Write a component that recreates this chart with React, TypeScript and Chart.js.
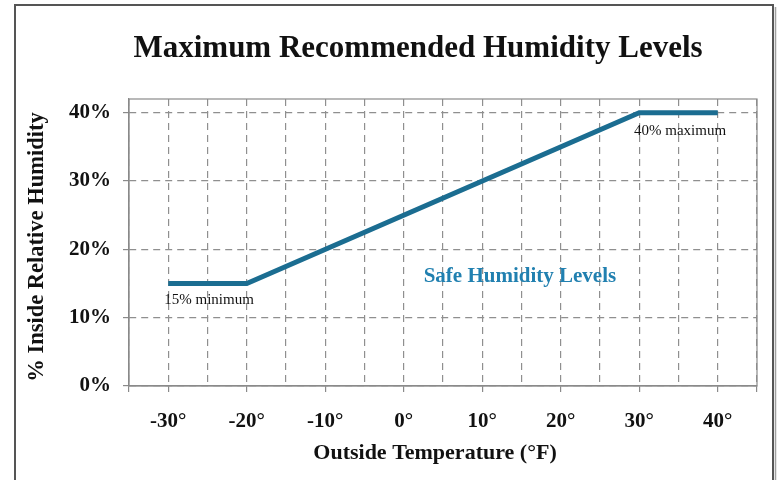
import React, { useEffect, useRef } from "react";
import { Chart, registerables } from "chart.js";

Chart.register(...registerables);

const TEMPS = [-30, -20, 30, 40];
const HUMIDITY = [15, 15, 40, 40];
const X_GRID = [-35, -30, -25, -20, -15, -10, -5, 0, 5, 10, 15, 20, 25, 30, 35, 40, 45];
const X_LABELS = [-30, -20, -10, 0, 10, 20, 30, 40];
const Y_GRID = [0, 10, 20, 30, 40];
const TITLE = "Maximum Recommended Humidity Levels";
const X_TITLE = "Outside Temperature (°F)";
const Y_TITLE = "% Inside Relative Humidity";
const NOTES = [
  { text: "Safe Humidity Levels", x: 14.8, y: 16, kind: "safe" },
  { text: "15% minimum", x: -24.8, y: 12.6, kind: "small" },
  { text: "40% maximum", x: 35.2, y: 37.3, kind: "small" },
];

const SERIF = "'Liberation Serif', 'DejaVu Serif', serif";
const LINE_COLOR = "#1b6d91";
const SAFE_COLOR = "#2180b0";
const GRID_COLOR = "#8f8f8f";

const decorPlugin = {
  id: "decor",
  beforeDraw(chart: any) {
    const { ctx, width, height } = chart;
    ctx.save();
    ctx.fillStyle = "#ffffff";
    ctx.fillRect(0, 0, width, height);
    ctx.strokeStyle = "#555";
    ctx.lineWidth = 2;
    ctx.beginPath();
    ctx.moveTo(15, height + 5);
    ctx.lineTo(15, 5);
    ctx.lineTo(773, 5);
    ctx.lineTo(773, height + 5);
    ctx.stroke();
    ctx.strokeStyle = "#a0a0a0";
    ctx.lineWidth = 1.5;
    ctx.beginPath();
    ctx.moveTo(775.5, 7);
    ctx.lineTo(775.5, height + 5);
    ctx.stroke();
    ctx.restore();
  },
  afterDatasetsDraw(chart: any) {
    const { ctx, chartArea } = chart;
    const xs = chart.scales.x;
    const ys = chart.scales.y;
    ctx.save();
    ctx.strokeStyle = "#8a8a8a";
    ctx.lineWidth = 1.2;
    ctx.setLineDash([]);
    ctx.strokeRect(chartArea.left, chartArea.top, chartArea.right - chartArea.left, chartArea.bottom - chartArea.top);
    ctx.fillStyle = "#111";
    ctx.textAlign = "center";
    ctx.textBaseline = "alphabetic";
    ctx.font = `bold 31px ${SERIF}`;
    ctx.fillText(TITLE, 418, 57);
    ctx.font = `bold 22px ${SERIF}`;
    ctx.textBaseline = "middle";
    ctx.fillText(X_TITLE, 435, 453);
    ctx.save();
    ctx.translate(37, 247);
    ctx.rotate(-Math.PI / 2);
    ctx.font = `bold 22.5px ${SERIF}`;
    ctx.fillText(Y_TITLE, 0, 0);
    ctx.restore();
    NOTES.forEach((n) => {
      const px = xs.getPixelForValue(n.x);
      const py = ys.getPixelForValue(n.y);
      if (n.kind === "safe") {
        ctx.font = `bold 21px ${SERIF}`;
        ctx.fillStyle = SAFE_COLOR;
      } else {
        ctx.font = `15px ${SERIF}`;
        ctx.fillStyle = "#111";
      }
      ctx.fillText(n.text, px, py);
    });
    ctx.restore();
  },
};

export default function App() {
  const ref = useRef<HTMLCanvasElement | null>(null);
  useEffect(() => {
    if (!ref.current) return;
    const chart = new Chart(ref.current, {
      type: "line",
      data: {
        datasets: [
          {
            data: TEMPS.map((t, i) => ({ x: t, y: HUMIDITY[i] })),
            borderColor: LINE_COLOR,
            borderWidth: 5,
            pointRadius: 0,
            fill: false,
            tension: 0,
            borderJoinStyle: "miter",
          },
        ],
      },
      options: {
        responsive: false,
        animation: false,
        layout: { padding: { left: 0, top: 99, right: 22, bottom: 0 } },
        plugins: { legend: { display: false }, tooltip: { enabled: false }, title: { display: false } },
        scales: {
          x: {
            type: "linear",
            min: -35,
            max: 45,
            afterBuildTicks: (s: any) => {
              s.ticks = X_GRID.map((v) => ({ value: v }));
            },
            afterFit: (s: any) => {
              s.height = 94;
            },
            ticks: {
              autoSkip: false,
              maxRotation: 0,
              padding: 17,
              color: "#111",
              font: { family: SERIF, size: 21, weight: "bold" },
              callback: (v: any) => (X_LABELS.includes(Number(v)) ? `${v}°` : ""),
            },
            grid: {
              color: GRID_COLOR,
              lineWidth: 1.2,
              tickLength: 6,
              tickColor: (c: any) =>
                c.tick && (X_LABELS.includes(c.tick.value) || c.tick.value === -35 || c.tick.value === 45) ? "#8a8a8a" : "rgba(0,0,0,0)",
              tickBorderDash: [],
            },
            border: { display: true, color: "#8a8a8a", width: 1.2, dash: [7, 5] },
          },
          y: {
            type: "linear",
            min: 0,
            max: 42,
            afterBuildTicks: (s: any) => {
              s.ticks = Y_GRID.map((v) => ({ value: v }));
            },
            afterFit: (s: any) => {
              s.width = 129;
            },
            ticks: {
              padding: 12,
              color: "#111",
              font: { family: SERIF, size: 21, weight: "bold" },
              callback: (v: any) => `${v}%`,
            },
            grid: {
              color: GRID_COLOR,
              lineWidth: 1.2,
              tickLength: 6,
              tickColor: "#8a8a8a",
              tickBorderDash: [],
            },
            border: { display: true, color: "#8a8a8a", width: 1.2, dash: [7, 5] },
          },
        },
      } as any,
      plugins: [decorPlugin],
    });
    return () => chart.destroy();
  }, []);
  return (
    <div style={{ position: "fixed", left: 0, top: 0, width: 779, height: 480, background: "#fff" }}>
      <canvas ref={ref} width={779} height={480} style={{ display: "block" }} />
    </div>
  );
}
